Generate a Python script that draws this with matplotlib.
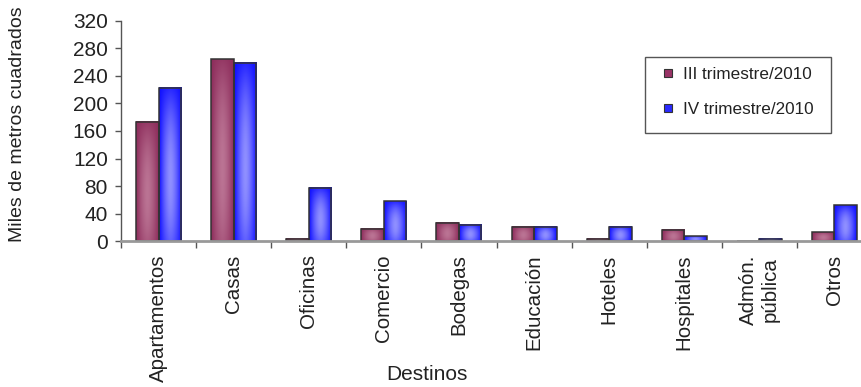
import numpy as np
import matplotlib
matplotlib.use("Agg")
import matplotlib.pyplot as plt
from matplotlib.lines import Line2D
from matplotlib.patches import Rectangle
from matplotlib.colors import to_rgb

plt.rcParams['font.family'] = ['Liberation Sans', 'DejaVu Sans']

categories = ["Apartamentos", "Casas", "Oficinas", "Comercio", "Bodegas",
              "Educación", "Hoteles", "Hospitales", "Admón.\npública", "Otros"]
serie_iii = [173, 264, 4, 18, 27, 21, 4, 16, 0, 13]
serie_iv = [222, 259, 77, 58, 24, 21, 21, 7, 4, 52]
series_names = ["III trimestre/2010", "IV trimestre/2010"]
yticks = [0, 40, 80, 120, 160, 200, 240, 280, 320]

W, H = 861, 387
fig = plt.figure(figsize=(W / 100, H / 100), dpi=100)
ax = fig.add_axes([121 / W, 145.7 / H, 751 / W, 220.6 / H])

x = np.arange(len(categories))
bw = 0.3
cols = [("#8c2b5a", "#bb7494", "#993366"), ("#0c0cff", "#9090ff", "#2a2aff")]
edge = "#333333"


def gradient(dark, light, n=64):
    d = np.array(to_rgb(dark))
    l = np.array(to_rgb(light))
    xx = np.linspace(0, 1, n)
    yy = np.linspace(0, 1, n)
    X, Y = np.meshgrid(xx, yy)
    t = (1 - np.abs(2 * X - 1) ** 1.6) * (1 - 0.55 * np.abs(2 * Y - 1.2) ** 2)
    t = np.clip(t, 0, 1)
    return d[None, None, :] * (1 - t[..., None]) + l[None, None, :] * t[..., None]


for k, (vals, offs) in enumerate([(serie_iii, -bw / 2), (serie_iv, bw / 2)]):
    dark, light, base = cols[k]
    bars = ax.bar(x + offs, vals, bw, color=base, edgecolor='none', zorder=2)
    img = gradient(dark, light)
    for p in bars:
        if p.get_height() <= 0:
            continue
        bx, by = p.get_x(), p.get_y()
        ax.imshow(img, extent=[bx, bx + p.get_width(), by, by + p.get_height()],
                  aspect='auto', clip_path=p, zorder=2.1, interpolation='bilinear')
    ax.bar(x + offs, vals, bw, fill=False, edgecolor=edge, linewidth=1.1, zorder=2.2)

ax.set_xlim(-0.5, len(categories) - 0.5)
ax.set_ylim(0, 320)
ax.set_yticks(yticks)
ax.set_yticklabels([str(v) for v in yticks])

ax.set_xticks(x)
ax.set_xticklabels(categories, rotation=90, va='top', ha='center', multialignment='center')
ax.set_xticks(np.arange(-0.5, len(categories) - 0.5, 1.0), minor=True)
ax.tick_params(axis='x', which='major', length=0, pad=9.5, labelsize=14.8, labelcolor='#222222')
ax.tick_params(axis='x', which='minor', length=5, width=1, color='#555555', direction='out')
ax.tick_params(axis='y', length=4.5, width=1, color='#555555', direction='out', pad=5,
               labelsize=15, labelcolor='#222222')

for s in ['top', 'right']:
    ax.spines[s].set_visible(False)
ax.spines['left'].set_color('#555555')
ax.spines['left'].set_linewidth(1)
ax.spines['bottom'].set_color('#999999')
ax.spines['bottom'].set_linewidth(2)
ax.set_facecolor('none')

fig.text(18 / W, 1 - 124 / H, "Miles de metros cuadrados", rotation=90,
         ha='center', va='center', fontsize=14, color='#222222')
fig.text(427 / W, 1 - 375 / H, "Destinos", ha='center', va='center',
         fontsize=15, color='#222222')

# legend box
fig.patches.append(Rectangle((645 / W, 1 - 133 / H), 186 / W, 76 / H,
                             transform=fig.transFigure, facecolor='white',
                             edgecolor='#555555', linewidth=1, zorder=3))
handles = [Line2D([], [], ls='', marker='s', markersize=5.5, markerfacecolor=cols[k][2],
                  markeredgecolor=edge, markeredgewidth=0.8) for k in range(2)]
leg = fig.legend(handles, series_names, loc='upper left',
                 bbox_to_anchor=(645 / W, 1 - 57 / H), bbox_transform=fig.transFigure,
                 borderaxespad=0, fontsize=12.3, frameon=False,
                 handlelength=1.46, handletextpad=0.15, borderpad=0.61, labelspacing=1.15,
                 labelcolor='#222222')
leg.set_zorder(4)

fig.savefig("out.png", dpi=100)
